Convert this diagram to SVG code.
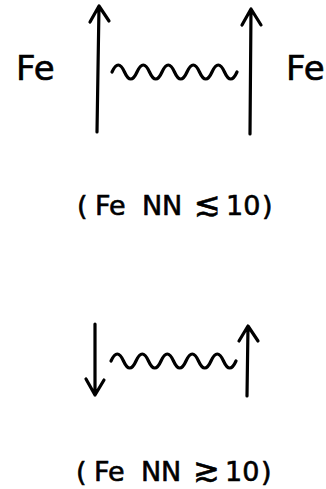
<svg xmlns="http://www.w3.org/2000/svg" width="326" height="489" viewBox="0 0 326 489">
<style>
.ln{fill:none;stroke:#000;stroke-width:3.2;stroke-linecap:round;stroke-linejoin:round}
.t{font-family:"DejaVu Sans","Liberation Sans",sans-serif;fill:#000;stroke:#000;stroke-width:0.6}
.rel{font-size:32px}
</style>
<rect width="326" height="489" fill="#fff"/>
<g id="fe-left"><text class="t" x="16" y="80" font-size="34">Fe</text></g>
<g id="fe-right"><text class="t" x="286" y="80" font-size="34">Fe</text></g>
<g id="connectors">
<path class="ln" d="M97,132 L99,6 M90,22 L99,6 L109,21"/>
<path class="ln" d="M250,134 L251,9 M242,25 L251,9 L261,25"/>
<path class="ln" d="M112,72 q6.25,-14 12.5,0 t12.5,0 t12.5,0 t12.5,0 t12.5,0 t12.5,0 t12.5,0 t12.5,0 t12.5,0 t12.5,0"/>
<path class="ln" d="M95,324 L95,395 M86,379 L95,395 L104,380"/>
<path class="ln" d="M247,396 L248,326 M239,341 L248,326 L258,341"/>
<path class="ln" d="M111,361 q6.25,-14 12.5,0 t12.5,0 t12.5,0 t12.5,0 t12.5,0 t12.5,0 t12.5,0 t12.5,0 t12.5,0 t12.5,0"/>
</g>
<g id="caption-1"><text class="t" y="215" font-size="27"><tspan x="77">(</tspan><tspan x="95">Fe</tspan><tspan x="142">N</tspan><tspan x="162">N</tspan><tspan class="rel" x="194">≲</tspan><tspan x="226">10</tspan><tspan x="262">)</tspan></text></g>
<g id="caption-2"><text class="t" y="481" font-size="27"><tspan x="76">(</tspan><tspan x="94">Fe</tspan><tspan x="141">N</tspan><tspan x="161">N</tspan><tspan class="rel" x="193">≳</tspan><tspan x="225">10</tspan><tspan x="261">)</tspan></text></g>
</svg>
